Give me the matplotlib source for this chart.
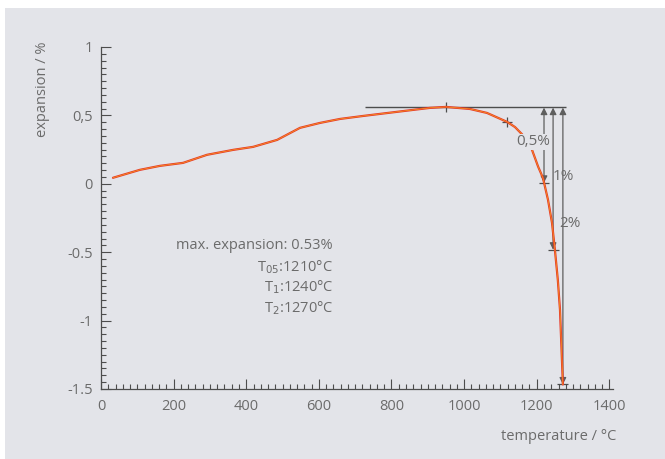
import matplotlib
matplotlib.use('Agg')
import matplotlib.pyplot as plt
from matplotlib.patches import Rectangle

plt.rcParams.update({'font.family': ['Open Sans', 'DejaVu Sans'],
                     'font.size': 10})

# ---------------- data ----------------
temp = [33, 107, 162, 226, 292, 364, 419, 485, 548, 603, 658, 722, 815,
        906, 950, 1016, 1063, 1118, 1140, 1162, 1187, 1204, 1217, 1231,
        1242, 1250, 1258, 1264, 1272]
expansion = [0.044, 0.102, 0.131, 0.153, 0.212, 0.248, 0.270, 0.321,
             0.409, 0.445, 0.474, 0.496, 0.526, 0.555, 0.562, 0.547,
             0.518, 0.453, 0.415, 0.355, 0.248, 0.124, 0.044, -0.117,
             -0.285, -0.482, -0.701, -0.920, -1.467]

e_max = 0.562             # plateau line drawn in the figure
t_peak = 950
hline_span = (727, 1281)
arrow_t = [1220, 1245, 1272]           # T05, T1, T2 arrows
arrow_bottom = [0.007, -0.482, -1.467]
arrow_text = ['0,5%', '1%', '2%']
arrow_text_pos = [(1190, 0.307), (1272, 0.051), (1292, -0.292)]
knee_mark = (1118, 0.453)

yticks = [1, 0.5, 0, -0.5, -1, -1.5]
ytick_labels = ['1', '0,5', '0', '-0.5', '-1', '-1.5']
xticks = [0, 200, 400, 600, 800, 1000, 1200, 1400]

info_lines = ['max. expansion: 0.53%', r'T$_{05}$:1210°C',
              r'T$_{1}$:1240°C', r'T$_{2}$:1270°C']
info_y = [-0.453, -0.606, -0.752, -0.912]

TXT = '#6b6b6b'
LINE = '#4d4d4d'
BG = '#e3e4e9'

W, H = 665, 459
fig = plt.figure(figsize=(W / 100, H / 100), dpi=100)
fig.patch.set_facecolor('white')
fig.patches.append(Rectangle((5 / W, 0), 1, 1 - 8 / H, transform=fig.transFigure,
                             facecolor=BG, edgecolor='none', zorder=-10))

ax = fig.add_axes([101 / W, 1 - 389 / H, 512 / W, 342 / H])
ax.set_facecolor('none')
ax.set_xlim(0, 1410)
ax.set_ylim(-1.5, 1)
for s in ['top', 'right']:
    ax.spines[s].set_visible(False)
for s in ['left', 'bottom']:
    ax.spines[s].set_color(LINE)
    ax.spines[s].set_linewidth(0.9)

ax.set_xticks(xticks)
ax.set_xticks(range(0, 1411, 20), minor=True)
ax.set_yticks(yticks)
ax.set_yticklabels(ytick_labels)
ax.set_yticks([v / 100 for v in range(-150, 101, 5)], minor=True)
ax.tick_params(which='both', direction='in', color=LINE, labelcolor=TXT,
               labelsize=10.5, width=0.8)
ax.tick_params(which='major', length=7)
ax.tick_params(which='minor', length=3.5)
ax.tick_params(axis='y', pad=6)
ax.tick_params(axis='x', pad=7)

# plateau line and marks
ax.hlines(e_max, *hline_span, color=LINE, lw=1.0, zorder=2)
ax.vlines(t_peak, e_max - 0.035, e_max + 0.035, color=LINE, lw=0.9)
ax.plot(*knee_mark, marker='+', ms=7, mew=0.9, color=LINE, zorder=4)

# arrows from plateau down to the shrinkage levels
for t, yb in zip(arrow_t, arrow_bottom):
    ax.annotate('', xy=(t, yb), xytext=(t, e_max - 0.005),
                arrowprops=dict(arrowstyle='<|-|>', color='#5e5e5e', lw=0.9,
                                mutation_scale=10, shrinkA=0, shrinkB=0),
                zorder=3)
    ax.hlines(yb, t - 15, t + 15, color=LINE, lw=0.9, zorder=4)

# expansion curve
ax.plot(temp, expansion, color='#e63a2a', lw=1.6, solid_capstyle='round',
        solid_joinstyle='round', zorder=5)
ax.plot(temp, expansion, color='#f8a51f', lw=0.45, zorder=6)

for s, (tx, ty) in zip(arrow_text, arrow_text_pos):
    bb = dict(facecolor=BG, edgecolor='none', pad=0.5) if s == '0,5%' else None
    ax.text(tx, ty, s, color=TXT, fontsize=11, ha='center', va='center',
            bbox=bb, zorder=7)

for s, yy in zip(info_lines, info_y):
    ax.text(639, yy, s, color=TXT, fontsize=10.5, ha='right', va='center')

fig.text(42 / W, 1 - 89 / H, 'expansion / %', rotation=90, color=TXT,
         fontsize=10.5, ha='center', va='center')
fig.text(616 / W, 1 - 437 / H, 'temperature / °C', color=TXT,
         fontsize=10.5, ha='right', va='center')

fig.savefig('out.png', dpi=100)
